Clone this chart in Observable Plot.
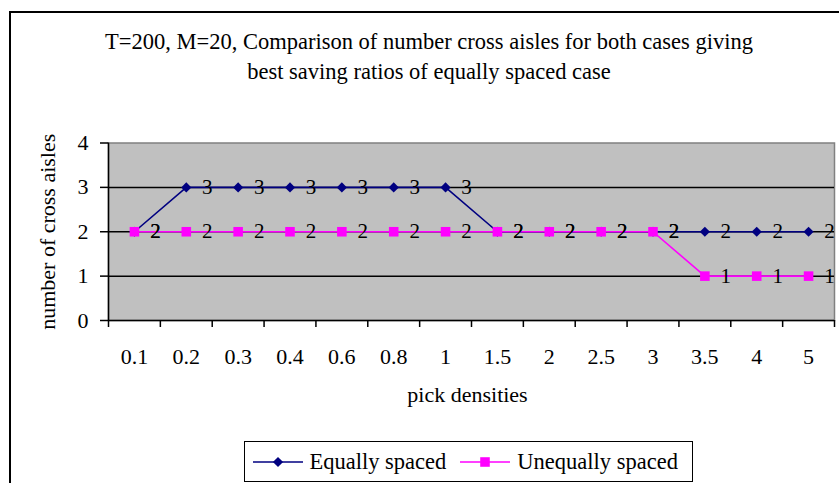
<!DOCTYPE html>
<html>
<head>
<meta charset="utf-8">
<script src="https://cdn.jsdelivr.net/npm/d3@7"></script>
<script src="https://cdn.jsdelivr.net/npm/@observablehq/plot@0.6"></script>
<style>
  body { margin: 0; background: #fff; }
  #chart {
    position: relative; width: 839px; height: 483px; overflow: hidden; background: #fff;
    font-family: "Liberation Serif", "Times New Roman", serif; color: #000;
  }
  #border {
    position: absolute; left: 9px; top: 11px; width: 900px; height: 600px;
    border: 2px solid #000; box-sizing: border-box;
  }
  #title {
    position: absolute; left: 0; top: 27px; width: 858px;
    text-align: center; font-size: 22.5px; line-height: 30px;
  }
  #plot { position: absolute; left: 0; top: 100px; }
  #legend {
    position: absolute; left: 244px; top: 441px; width: 449px; height: 41px;
    border: 1.5px solid #000; box-sizing: border-box; background: #fff;
    display: flex; align-items: center; padding-left: 7.5px; font-size: 22.5px; white-space: nowrap;
  }
  #legend .item { display: flex; align-items: center; }
  #legend svg { display: block; }
  #legend span { margin-left: 7px; }
  #legend .item + .item { margin-left: 14px; }
</style>
</head>
<body>
<div id="chart">
  <div id="border"></div>
  <div id="title"></div>
  <div id="plot"></div>
  <div id="legend"></div>
</div>
<script>
// Pick densities (category axis) and the best number of cross aisles per case
const densities = ["0.1", "0.2", "0.3", "0.4", "0.6", "0.8", "1", "1.5", "2", "2.5", "3", "3.5", "4", "5"];
const equallySpaced = [2, 3, 3, 3, 3, 3, 3, 2, 2, 2, 2, 2, 2, 2];
const unequallySpaced = [2, 2, 2, 2, 2, 2, 2, 2, 2, 2, 2, 1, 1, 1];
const yTicks = [0, 1, 2, 3, 4];

const seriesNames = ["Equally spaced", "Unequally spaced"];
const seriesValues = [equallySpaced, unequallySpaced];
const seriesColors = ["#000080", "#ff00ff"];
const seriesSymbols = ["diamond2", "square"];
const seriesRadius = [4.6, 5.4];

const titleLines = [
  "T=200, M=20, Comparison of number cross aisles for both cases giving",
  "best saving ratios of equally spaced case"
];
const xLabel = "pick densities";
const yLabel = "number of cross aisles";

document.getElementById("title").innerHTML = titleLines.join("<br>");

// One table per series
const series = seriesNames.map((name, s) =>
  densities.map((density, i) => ({series: name, density, value: seriesValues[s][i]}))
);

const width = 839, height = 335;
const margin = {top: 42.5, right: 5, bottom: 115, left: 108};
// half the distance between two categories: category boundaries carry the ticks
const halfStep = (width - margin.left - margin.right) / densities.length / 2;
const font = "'Liberation Serif', 'Times New Roman', serif";

const marks = [
  Plot.frame({fill: "#c0c0c0", stroke: "#808080", strokeWidth: 1.5}),
  Plot.ruleY(yTicks.filter(t => t > 0 && t < 4), {stroke: "#000", strokeWidth: 1.5}),
  Plot.ruleY([0], {stroke: "#000", strokeWidth: 1.5}),
  Plot.ruleX([densities[0]], {y1: 0, y2: 4, dx: -halfStep, stroke: "#000", strokeWidth: 1.5}),
  // boundary ticks below the category axis
  Plot.axisX({tickSize: 7, text: null, label: null, dx: -halfStep, stroke: "#000", strokeWidth: 1.5}),
  Plot.axisX({ticks: [densities[densities.length - 1]], tickSize: 7, text: null, label: null, dx: halfStep, stroke: "#000", strokeWidth: 1.5}),
  Plot.axisX({tickSize: 0, tickPadding: 28, fontSize: 22, fontFamily: font, label: null}),
  Plot.axisY({ticks: yTicks, tickFormat: d => String(d), tickSize: 8, tickPadding: 12, fontSize: 22, fontFamily: font, label: null, strokeWidth: 1.5}),
  Plot.text([yLabel], {frameAnchor: "left", rotate: -90, dx: -61, textAnchor: "middle", lineAnchor: "middle", fontSize: 22, fontFamily: font}),
  Plot.text([xLabel], {frameAnchor: "bottom", dy: 74, dx: -4, lineAnchor: "middle", textAnchor: "middle", fontSize: 22, fontFamily: font})
];

series.forEach((rows, s) => {
  marks.push(
    Plot.line(rows, {x: "density", y: "value", stroke: seriesColors[s], strokeWidth: 1.6}),
    Plot.dot(rows, {x: "density", y: "value", symbol: seriesSymbols[s], r: seriesRadius[s], fill: seriesColors[s], stroke: "none"})
  );
});

// value labels to the right of each point
series.forEach(rows => {
  marks.push(
    Plot.text(rows, {x: "density", y: "value", text: d => String(d.value), dx: 21, fontSize: 21, fontFamily: font, fill: "#000"})
  );
});

const chart = Plot.plot({
  width, height,
  marginTop: margin.top, marginRight: margin.right, marginBottom: margin.bottom, marginLeft: margin.left,
  style: {fontFamily: font, fontSize: "22px", background: "transparent", overflow: "visible", color: "#000"},
  x: {type: "point", domain: densities, padding: 0.5, align: 0.5, round: false},
  y: {domain: [0, 4]},
  marks
});
document.getElementById("plot").appendChild(chart);

// Legend: line swatch with marker, then series name
const legend = d3.select("#legend");
seriesNames.forEach((name, s) => {
  const item = legend.append("div").attr("class", "item");
  const svg = item.append("svg").attr("width", 50).attr("height", 14);
  svg.append("line").attr("x1", 0).attr("x2", 50).attr("y1", 7).attr("y2", 7)
    .attr("stroke", seriesColors[s]).attr("stroke-width", 1.6);
  const sym = s === 0 ? d3.symbolDiamond2 : d3.symbolSquare;
  const size = Math.pow(seriesRadius[s], 2) * Math.PI;
  svg.append("path").attr("transform", "translate(25,7)")
    .attr("d", d3.symbol(sym, size)()).attr("fill", seriesColors[s]);
  item.append("span").text(name);
});
</script>
</body>
</html>
